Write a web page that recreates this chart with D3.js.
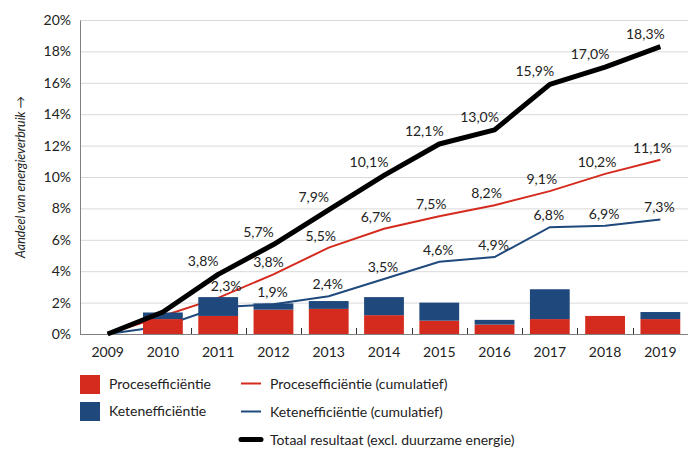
<!DOCTYPE html>
<html>
<head>
<meta charset="utf-8">
<script src="https://cdn.jsdelivr.net/npm/d3@7"></script>
<style>
    body { margin: 0; background: #fff; }
    svg { display: block; }
    text { font-family: Lato, 'Open Sans', sans-serif; fill: #222; }
</style>
</head>
<body>
<svg id="chart" width="696" height="451"></svg>
<script>
// Years on the x axis
const years = ['2009', '2010', '2011', '2012', '2013', '2014', '2015', '2016', '2017', '2018', '2019'];

// Yearly results (stacked bars), % of energy use
const procesYearly = [0, 0.95, 1.15, 1.55, 1.6, 1.2, 0.85, 0.6, 0.95, 1.15, 0.95];
const ketenYearly = [0, 0.42, 1.2, 0.4, 0.5, 1.15, 1.15, 0.3, 1.9, 0, 0.45];

// Cumulative results (lines)
const procesCumulative = [0, 1.15, 2.3, 3.8, 5.5, 6.7, 7.5, 8.2, 9.1, 10.2, 11.1];
const ketenCumulative = [0, 0.5, 1.7, 1.9, 2.4, 3.5, 4.6, 4.9, 6.8, 6.9, 7.3];
const totaalResultaat = [0, 1.4, 3.8, 5.7, 7.9, 10.1, 12.1, 13.0, 15.9, 17.0, 18.3];

// Y axis ticks
const yTicks = [0, 2, 4, 6, 8, 10, 12, 14, 16, 18, 20];

const barNames = ['Procesefficiëntie', 'Ketenefficiëntie'];
const lineNames = ['Procesefficiëntie (cumulatief)', 'Ketenefficiëntie (cumulatief)', 'Totaal resultaat (excl. duurzame energie)'];

const red = '#d52b1e';
const blue = '#1f497d';
const fontSize = '14px';

const svg = d3.select('#chart');
const margin = { top: 20, right: 8, bottom: 117, left: 80 };
const width = 696 - margin.left - margin.right;
const height = 451 - margin.top - margin.bottom;

const g = svg.append('g').attr('transform', `translate(${margin.left},${margin.top})`);

const x = d3.scaleBand().domain(years).range([0, width]).padding(0);
const y = d3.scaleLinear().domain([0, 20]).range([height, 0]);
const cx = i => x(years[i]) + x.bandwidth() / 2;

const nl = d3.formatLocale({ decimal: ',', thousands: '.', grouping: [3], currency: ['', ''] });
const pct = d => nl.format('.1f')(d) + '%';

// Gridlines
g.append('g')
    .selectAll('line')
    .data(yTicks.slice(1))
    .enter()
    .append('line')
    .attr('x1', 0)
    .attr('x2', width)
    .attr('y1', d => y(d) + 0.5)
    .attr('y2', d => y(d) + 0.5)
    .attr('stroke', '#d9d9d9');

// Y axis
const yAxis = g.append('g')
    .call(d3.axisLeft(y).tickValues(yTicks).tickSize(0).tickPadding(9).tickFormat(d => d + '%'));
yAxis.select('.domain').attr('stroke', '#808080');
yAxis.selectAll('text').style('font-size', fontSize).attr('fill', '#222');

// X axis (labels at band centres, ticks at band boundaries pointing up)
const xAxis = g.append('g')
    .attr('transform', `translate(0,${height})`)
    .call(d3.axisBottom(x).tickSize(0).tickPadding(13));
xAxis.select('.domain').remove();
xAxis.selectAll('text').style('font-size', fontSize).attr('fill', '#222');

// Lines that sit behind the bars
const line = d3.line()
    .x((d, i) => cx(i))
    .y(d => y(d));

g.append('path')
    .datum(procesCumulative)
    .attr('fill', 'none')
    .attr('stroke', red)
    .attr('stroke-width', 2)
    .attr('d', line);

g.append('path')
    .datum(ketenCumulative)
    .attr('fill', 'none')
    .attr('stroke', blue)
    .attr('stroke-width', 2)
    .attr('d', line);

// Stacked bars
const barData = years.map((yr, i) => ({ year: yr, proces: procesYearly[i], keten: ketenYearly[i] }));
const stacked = d3.stack().keys(['proces', 'keten'])(barData);
const barW = x.bandwidth() * 0.72;

g.append('g')
    .selectAll('g')
    .data(stacked)
    .enter()
    .append('g')
    .attr('fill', (d, i) => i === 0 ? red : blue)
    .selectAll('rect')
    .data(d => d)
    .enter()
    .append('rect')
    .attr('x', d => x(d.data.year) + (x.bandwidth() - barW) / 2)
    .attr('y', d => y(d[1]))
    .attr('width', barW)
    .attr('height', d => y(d[0]) - y(d[1]));

// Axis line and boundary ticks
g.append('line')
    .attr('x1', 0).attr('x2', width)
    .attr('y1', height + 0.5).attr('y2', height + 0.5)
    .attr('stroke', '#808080');

g.append('g')
    .selectAll('line')
    .data(years.slice(2))
    .enter()
    .append('line')
    .attr('x1', d => Math.round(x(d)) + 0.5)
    .attr('x2', d => Math.round(x(d)) + 0.5)
    .attr('y1', height)
    .attr('y2', height - 6)
    .attr('stroke', '#333');

// Total line on top
g.append('path')
    .datum(totaalResultaat)
    .attr('fill', 'none')
    .attr('stroke', '#000')
    .attr('stroke-width', 5)
    .attr('stroke-linejoin', 'round')
    .attr('d', line);

// y of the total line at a given pixel x
function totalAt(px) {
    for (let i = 0; i < years.length - 1; i++) {
        const x0 = cx(i), x1 = cx(i + 1);
        if (px >= x0 && px <= x1) {
            const t = (px - x0) / (x1 - x0);
            return y(totaalResultaat[i] + t * (totaalResultaat[i + 1] - totaalResultaat[i]));
        }
    }
    return null;
}

// Value labels
const labelSets = [
    { values: procesCumulative, from: 2, dx: -8, dy: -7, avoid: true },
    { values: ketenCumulative, from: 3, dx: -1, dy: -7, avoid: true },
    { values: totaalResultaat, from: 2, dx: -15, dy: -8, avoid: false }
];

labelSets.forEach(set => {
    const labels = g.append('g')
        .selectAll('text')
        .data(set.values.map((v, i) => ({ v, i })).filter(d => d.i >= set.from))
        .enter()
        .append('text')
        .attr('x', d => cx(d.i) + set.dx)
        .attr('y', d => y(d.v) + set.dy)
        .attr('text-anchor', 'middle')
        .style('font-size', fontSize)
        .text(d => pct(d.v));

    if (!set.avoid) return;
    // push a label to the right while the thick total line runs through it
    labels.each(function () {
        const el = d3.select(this);
        const w = this.getComputedTextLength();
        const base = +el.attr('y');
        let px = +el.attr('x');
        for (let k = 0; k < 30; k++) {
            let hit = false;
            for (let sx = px - w / 2; sx <= px + w / 2; sx += 1) {
                const ly = totalAt(sx);
                if (ly !== null && ly + 2.5 > base - 9 && ly - 2.5 < base) { hit = true; break; }
            }
            if (!hit) break;
            px += 1;
        }
        el.attr('x', px);
    });
});

// Y axis title
svg.append('text')
    .attr('transform', 'translate(25,177) rotate(-90)')
    .attr('text-anchor', 'middle')
    .style('font-size', '12.5px')
    .style('font-style', 'italic')
    .text('Aandeel van energieverbruik →');

// Legend
const legend = svg.append('g');

legend.selectAll('rect')
    .data(barNames)
    .enter()
    .append('rect')
    .attr('x', 80)
    .attr('y', (d, i) => 375 + i * 27)
    .attr('width', 20)
    .attr('height', 19)
    .attr('fill', (d, i) => i === 0 ? red : blue);

legend.selectAll('.bar-label')
    .data(barNames)
    .enter()
    .append('text')
    .attr('class', 'bar-label')
    .attr('x', 109)
    .attr('y', (d, i) => 384.5 + i * 27)
    .attr('dy', '0.35em')
    .style('font-size', fontSize)
    .text(d => d);

const lineColors = [red, blue, '#000'];
const lineWidths = [2, 2, 5];

legend.selectAll('line')
    .data(lineNames)
    .enter()
    .append('line')
    .attr('x1', 241)
    .attr('x2', 261)
    .attr('y1', (d, i) => 383.5 + i * 28)
    .attr('y2', (d, i) => 383.5 + i * 28)
    .attr('stroke', (d, i) => lineColors[i])
    .attr('stroke-width', (d, i) => lineWidths[i])
    .attr('stroke-linecap', (d, i) => i === 2 ? 'round' : 'butt');

legend.selectAll('.line-label')
    .data(lineNames)
    .enter()
    .append('text')
    .attr('class', 'line-label')
    .attr('x', 270)
    .attr('y', (d, i) => 384 + i * 28)
    .attr('dy', '0.35em')
    .style('font-size', fontSize)
    .text(d => d);
</script>
</body>
</html>
